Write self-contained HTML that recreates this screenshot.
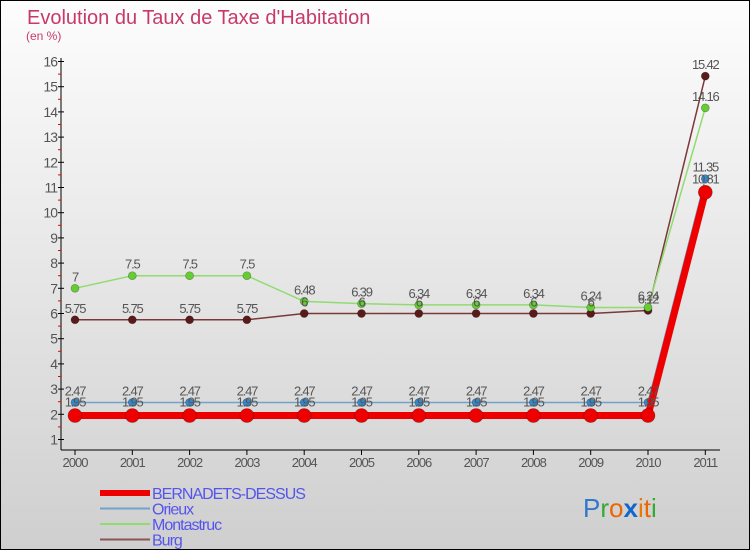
<!DOCTYPE html>
<html><head><meta charset="utf-8"><style>
body{margin:0}
#c{width:750px;height:550px;position:relative;box-sizing:border-box;border:1px solid #000;background:linear-gradient(#fdfdfd,#cfcfcf);font-family:"Liberation Sans",sans-serif;overflow:hidden}
</style></head><body>
<div id="c">
<svg id="s" width="750" height="550" style="position:absolute;left:-1px;top:-1px;font-family:'Liberation Sans',sans-serif"></svg>
</div>
<script>
const years=["2000","2001","2002","2003","2004","2005","2006","2007","2008","2009","2010","2011"];
const bernadets=[1.95,1.95,1.95,1.95,1.95,1.95,1.95,1.95,1.95,1.95,1.95,10.81];
const orieux=[2.47,2.47,2.47,2.47,2.47,2.47,2.47,2.47,2.47,2.47,2.47,11.35];
const montastruc=[7,7.5,7.5,7.5,6.48,6.39,6.34,6.34,6.34,6.24,6.24,14.16];
const burg=[5.75,5.75,5.75,5.75,6,6,6,6,6,6,6.12,15.42];
const yTicks=[1,2,3,4,5,6,7,8,9,10,11,12,13,14,15,16];
const ns="http://www.w3.org/2000/svg",s=document.getElementById('s');
const X=i=>75+i*57.3, Y=v=>61.5+(16-v)*25.2;
function el(t,a,txt){const e=document.createElementNS(ns,t);for(const k in a)e.setAttribute(k,a[k]);if(txt!==undefined)e.textContent=txt;s.appendChild(e);return e;}
const fmt=v=>String(v);
let e;
e=el('text',{x:27,y:24,'font-size':20,fill:'#c8396a','font-weight':'300'},"Evolution du Taux de Taxe d'Habitation");

e=el('text',{x:26,y:40,'font-size':12,fill:'#c8396a'},"(en %)");

e=el('line',{x1:61,y1:58,x2:61,y2:450,stroke:'#000'});

e=el('line',{x1:61,y1:450,x2:720,y2:450,stroke:'#000'});

yTicks.forEach(v=>{
 e=el('line',{x1:58,y1:Y(v),x2:64,y2:Y(v),stroke:'#000'});
 
 e=el('text',{x:57,y:Y(v)+5,'font-size':14,fill:'#555','text-anchor':'end','letter-spacing':'-1'},v);
 
 if(v<16){e=el('line',{x1:58,y1:Y(v+0.5),x2:61,y2:Y(v+0.5),stroke:'#e00'});
 }
});
years.forEach((y,i)=>{
 e=el('line',{x1:X(i),y1:450,x2:X(i),y2:455,stroke:'#000'});
 
 e=el('text',{x:X(i),y:467,'font-size':13,fill:'#555','text-anchor':'middle','letter-spacing':'-1'},y);
 
});
const series=[
 {d:burg,c:'#7a3838',p:'#5a1a1a',w:1.5,r:4,n:'burg'},
 {d:montastruc,c:'#90dc70',p:'#66cc33',w:1.5,r:4,n:'montastruc'},
 {d:orieux,c:'#6fa3cc',p:'#3388cc',w:1.5,r:4,n:'orieux'},
 {d:bernadets,c:'#ee0000',p:'#ee0000',w:7,r:7,n:'bernadets-dessus'}];
series.forEach(sr=>{
 e=el('polyline',{points:sr.d.map((v,i)=>X(i)+','+Y(v)).join(' '),fill:'none',stroke:sr.c,'stroke-width':sr.w});
 
 sr.d.forEach((v,i)=>{
  e=el('circle',{cx:X(i),cy:Y(v),r:sr.r,fill:sr.p,stroke:'rgba(0,0,0,0.3)','stroke-width':0.7});
  
 });
});
series.forEach(sr=>{
 sr.d.forEach((v,i)=>{
  e=el('text',{x:X(i),y:Y(v)-(sr.r>5?9:7),'font-size':13,fill:'#555','text-anchor':'middle','letter-spacing':'-1.2'},fmt(v));
  
 });
});
const leg=[['BERNADETS-DESSUS','#ee0000',6],['Orieux','#6fa3cc',2],['Montastruc','#90dc70',2],['Burg','#8a5555',2]];
leg.forEach((l,i)=>{
 const y=493+i*15.5;
 e=el('line',{x1:100,y1:y,x2:150,y2:y,stroke:l[1],'stroke-width':l[2]});
 
 e=el('text',{x:152,y:y+6,'font-size':16,fill:'#5555ee','letter-spacing':'-1'},l[0]);
 
});
const logo=[['P','#3377cc'],['r','#33aa33'],['o','#ee6600'],['x','#1166cc'],['i','#ee7700'],['t','#ee6600'],['i','#33aa33']];
const g=document.createElementNS(ns,'text');g.setAttribute('x',583);g.setAttribute('y',517);g.setAttribute('font-size',26);

logo.forEach(c=>{const t=document.createElementNS(ns,'tspan');t.setAttribute('fill',c[1]);if(c[0]==='x')t.setAttribute('font-weight','bold');t.textContent=c[0];g.appendChild(t);});
s.appendChild(g);
</script>
</body></html>
